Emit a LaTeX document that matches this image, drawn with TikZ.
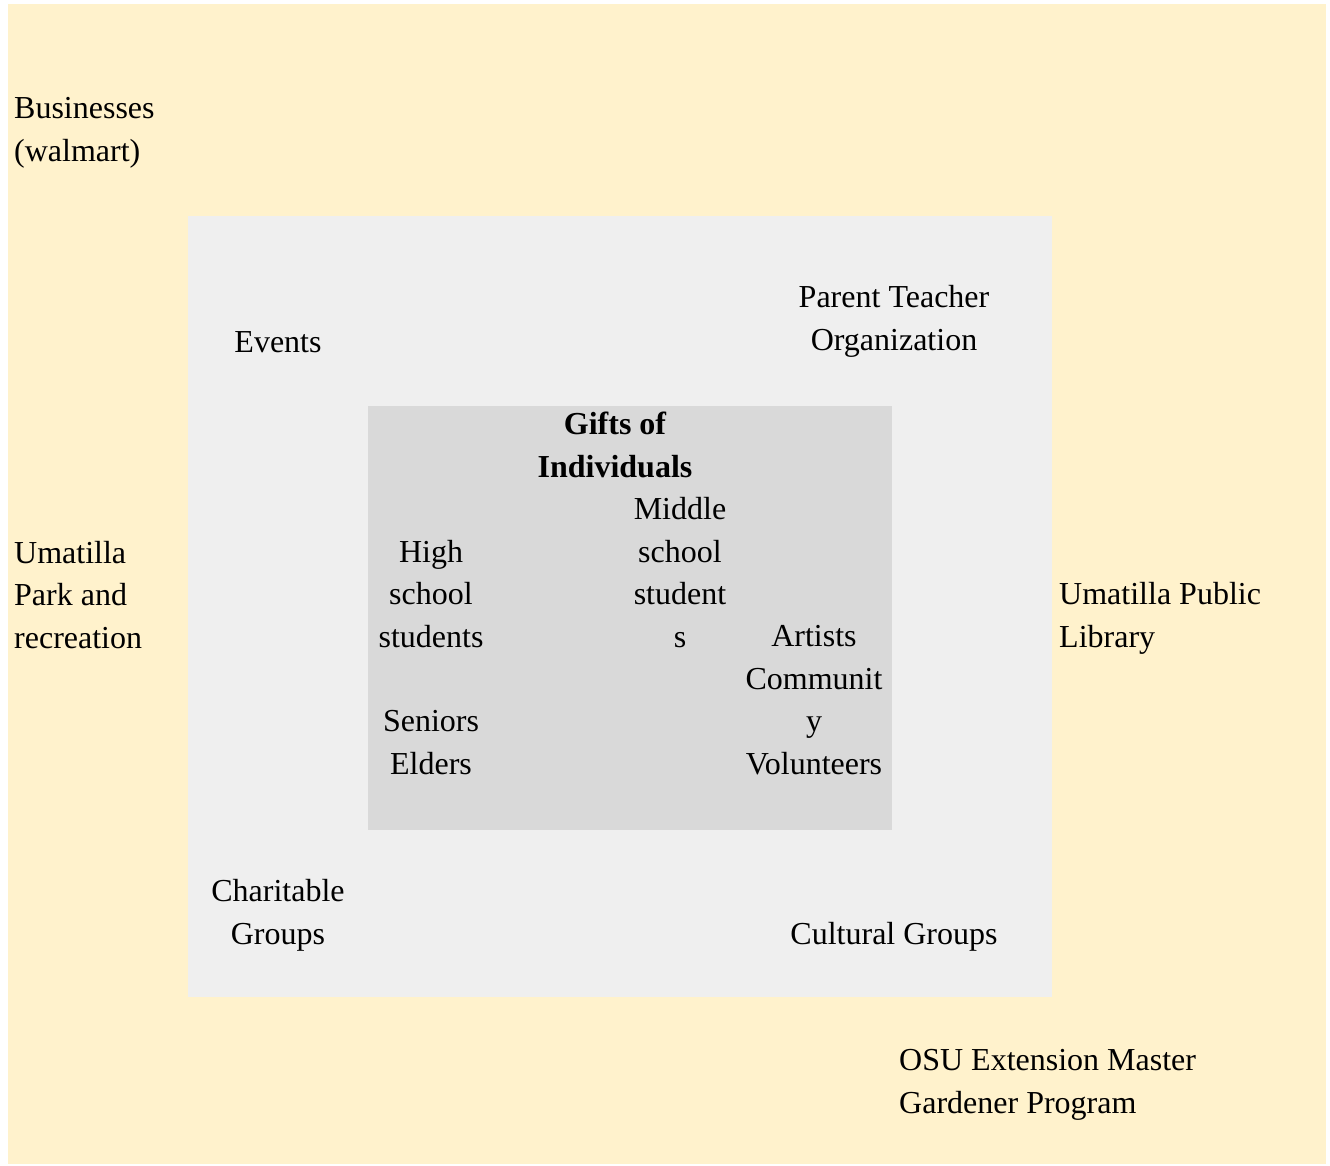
\documentclass[tikz,border=0pt]{standalone}
\usepackage{fontspec}
\setmainfont{Liberation Serif}
\usepackage{tikz}
\usetikzlibrary{positioning}
\definecolor{outerbg}{RGB}{255,242,204}
\definecolor{middlebg}{RGB}{239,239,239}
\definecolor{innerbg}{RGB}{217,217,217}
\definecolor{labelblack}{RGB}{0,0,0}
\tikzset{
  ringbox/.style={
    draw=none, inner sep=0pt, anchor=north west
  },
  ringlabel/.style={
    inner sep=0pt, anchor=base west, align=left,
    font=\fontsize{32}{42.4}\selectfont\color{labelblack}
  },
  grouplabel/.style={
    inner sep=0pt, anchor=base, align=center,
    font=\fontsize{32}{42.4}\selectfont\color{labelblack}
  },
  corelabel/.style={
    grouplabel, font=\fontsize{32}{42.4}\selectfont\bfseries\color{labelblack}
  },
}

\begin{document}
\begin{tikzpicture}[x=1pt, y=-1pt]

  \useasboundingbox (0,0) rectangle (1330,1165);

  %% Rings
  \node[ringbox, fill=outerbg, minimum width=1318pt, minimum height=1160pt]
    (outer) at (8,4) {};
  \node[ringbox, fill=middlebg, minimum width=864pt, minimum height=781pt]
    (middle) at (188,216) {};
  \node[ringbox, fill=innerbg, minimum width=524pt, minimum height=424pt]
    (inner) at (368,406) {};

  %% Outer ring (base = last line)
  \node[ringlabel] (biz) at (14,161) {Businesses\\(walmart)};
  \node[ringlabel] (park) at (14,648) {Umatilla\\Park and\\recreation};
  \node[ringlabel] (library) at (1059,647) {Umatilla Public\\Library};
  \node[ringlabel] (osu) at (899,1113)
    {OSU Extension Master\\Gardener Program};

  %% Middle ring
  \node[grouplabel] (events) at (278,352) {Events};
  \node[grouplabel] (pto) at (894,350) {Parent Teacher\\Organization};
  \node[grouplabel] (charity) at (278,944) {Charitable\\Groups};
  \node[grouplabel] (culture) at (894,944) {Cultural Groups};

  %% Inner ring
  \node[corelabel] (gifts) at (615,477) {Gifts of\\Individuals};
  \node[grouplabel] (middleschool) at (680,647)
    {Middle\\school\\student\\s};
  \node[grouplabel] (highschool) at (431,647) {High\\school\\students};
  \node[grouplabel] (artists) at (814,774)
    {Artists\\Communit\\y\\Volunteers};
  \node[grouplabel] (seniors) at (431,774) {Seniors\\Elders};

\end{tikzpicture}
\end{document}
